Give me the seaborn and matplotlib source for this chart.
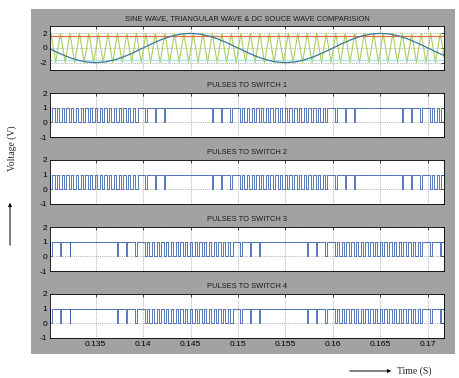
import numpy as np
import pandas as pd
import matplotlib
matplotlib.use('Agg')
import matplotlib.pyplot as plt
from matplotlib.patches import FancyArrowPatch
import seaborn as sns

# time axis (s)
X_MIN, X_MAX = 0.1302, 0.1717
X_TICKS = [0.135, 0.14, 0.145, 0.15, 0.155, 0.16, 0.165, 0.17]
X_TICK_LABELS = ['0.135', '0.14', '0.145', '0.15', '0.155', '0.16', '0.165', '0.17']

sine_t0, sine_dt = 0.130, 0.001
sine_v = [0.0, -0.62, -1.18, -1.62, -1.9, -2.0, -1.9, -1.62, -1.18, -0.62,
          0.0, 0.62, 1.18, 1.62, 1.9, 2.0, 1.9, 1.62, 1.18, 0.62,
          0.0, -0.62, -1.18, -1.62, -1.9, -2.0, -1.9, -1.62, -1.18, -0.62,
          0.0, 0.62, 1.18, 1.62, 1.9, 2.0, 1.9, 1.62, 1.18, 0.62,
          0.0, -0.62, -1.18]

# triangular carrier: first peak, period, peak levels
carrier_t0, carrier_T = 0.1303, 0.001
tri_hi, tri_lo = 2.0, -2.0
dc_pos, dc_neg = 1.7, -1.7

# width of the low notch in every half carrier period (fraction of 0.5 ms)
notch_T = 0.0005
sw1_dips = [0.5, 0.5, 0.5, 0.5, 0.5, 0.5, 0.5, 0.5, 0.5, 0.5,
            0.5, 0.5, 0.5, 0.5, 0.5, 0.5, 0.5, 0.5, 0.5, 0,
            0.4, 0, 0.24, 0, 0.16, 0, 0, 0, 0, 0,
            0, 0, 0, 0, 0.16, 0, 0.24, 0, 0.4, 0,
            0.5, 0.5, 0.5, 0.5, 0.5, 0.5, 0.5, 0.5, 0.5, 0.5,
            0.5, 0.5, 0.5, 0.5, 0.5, 0.5, 0.5, 0.5, 0.5, 0,
            0.4, 0, 0.24, 0, 0.16, 0, 0, 0, 0, 0,
            0, 0, 0, 0, 0.16, 0, 0.24, 0, 0.4, 0,
            0.5, 0.5, 0.5]
sw2_dips = sw1_dips
sw3_dips = [0.4, 0, 0.24, 0, 0.16, 0, 0, 0, 0, 0,
            0, 0, 0, 0, 0.16, 0, 0.24, 0, 0.4, 0,
            0.5, 0.5, 0.5, 0.5, 0.5, 0.5, 0.5, 0.5, 0.5, 0.5,
            0.5, 0.5, 0.5, 0.5, 0.5, 0.5, 0.5, 0.5, 0.5, 0,
            0.4, 0, 0.24, 0, 0.16, 0, 0, 0, 0, 0,
            0, 0, 0, 0, 0.16, 0, 0.24, 0, 0.4, 0,
            0.5, 0.5, 0.5, 0.5, 0.5, 0.5, 0.5, 0.5, 0.5, 0.5,
            0.5, 0.5, 0.5, 0.5, 0.5, 0.5, 0.5, 0.5, 0.5, 0,
            0.4, 0, 0.24]
sw4_dips = sw3_dips

TITLES = ['SINE WAVE, TRIANGULAR WAVE & DC SOUCE WAVE COMPARISION',
          'PULSES TO SWITCH 1', 'PULSES TO SWITCH 2',
          'PULSES TO SWITCH 3', 'PULSES TO SWITCH 4']

sns.set_style('white')
plt.rcParams['font.family'] = ['Liberation Sans Narrow', 'Liberation Sans', 'DejaVu Sans']
plt.rcParams['axes.unicode_minus'] = False

W, H = 460, 378
fig = plt.figure(figsize=(W / 100, H / 100), dpi=100)
# grey scope panel behind the axes
bg = fig.add_axes([31 / W, 1 - 354 / H, (455 - 31) / W, (354 - 9) / H], zorder=-5)
bg.set_facecolor('#a2a2a2')
bg.set_xticks([])
bg.set_yticks([])
for s in bg.spines.values():
    s.set_visible(False)

tops = [26, 93, 160, 227, 294]
ax_h = 44
axes = [fig.add_axes([50 / W, 1 - (t + ax_h) / H, (444 - 50) / W, ax_h / H]) for t in tops]


def pulse_frame(dips):
    xs, ys = [X_MIN], [1]
    for k, w in enumerate(dips):
        if w <= 0:
            continue
        c = carrier_t0 + k * notch_T
        a = max(c - w * notch_T / 2, X_MIN)
        b = min(c + w * notch_T / 2, X_MAX)
        if a >= b:
            continue
        xs += [a, a, b, b]
        ys += [1, 0, 0, 1]
    xs.append(X_MAX)
    ys.append(1)
    return pd.DataFrame({'t': xs, 'v': ys})


# top panel
ax = axes[0]
n_car = 43
tri_t, tri_v = [], []
for k in range(n_car):
    tri_t += [carrier_t0 - carrier_T + k * carrier_T, carrier_t0 - carrier_T / 2 + k * carrier_T]
    tri_v += [tri_hi, tri_lo]
df_tri = pd.DataFrame({'t': tri_t, 'v': tri_v})
sns.lineplot(data=df_tri, x='t', y='v', ax=ax, color='#a6d060', lw=0.8,
             estimator=None, sort=False)
ax.axhline(dc_pos, color='#e0703a', lw=0.9)
ax.axhline(dc_neg, color='#a5e2e2', lw=0.8)
df_sine = pd.DataFrame({'t': [sine_t0 + i * sine_dt for i in range(len(sine_v))], 'v': sine_v})
sns.lineplot(data=df_sine, x='t', y='v', ax=ax, color='#3a7896', lw=0.9,
             estimator=None, sort=False)
ax.set_ylim(-3, 3)
ax.set_yticks([-2, 0, 2])

for ax, dips in zip(axes[1:], [sw1_dips, sw2_dips, sw3_dips, sw4_dips]):
    sns.lineplot(data=pulse_frame(dips), x='t', y='v', ax=ax, color='#3a62b0',
                 lw=0.6, estimator=None, sort=False)
    ax.set_ylim(-1, 2)
    ax.set_yticks([-1, 0, 1, 2])

for i, ax in enumerate(axes):
    ax.set_facecolor('white')
    ax.set_xlim(X_MIN, X_MAX)
    ax.set_xticks(X_TICKS)
    ax.set_xlabel('')
    ax.set_ylabel('')
    if i == 4:
        ax.set_xticklabels(X_TICK_LABELS)
    else:
        ax.set_xticklabels([])
    ax.grid(True, color='#7a7a7a', ls=':', lw=0.5)
    ax.tick_params(direction='in', top=True, right=True, length=2.5, width=0.5,
                   labelsize=6, pad=2, colors='black')
    for s in ax.spines.values():
        s.set_visible(True)
        s.set_color('black')
        s.set_linewidth(0.6)
    ax.set_title(TITLES[i], fontsize=5.4, color='#1a1a1a', pad=4)

# outer labels
fig.text(12 / W, 1 - 148 / H, 'Voltage (V)', rotation=90, ha='center', va='center',
         fontsize=7, family=['Liberation Serif', 'DejaVu Serif'])
fig.add_artist(FancyArrowPatch(
    (10 / W, 1 - 248 / H), (10 / W, 1 - 200 / H), transform=fig.transFigure,
    arrowstyle='-|>', mutation_scale=5, lw=0.7, color='black'))
fig.text(397 / W, 1 - 371 / H, 'Time (S)', ha='left', va='center',
         fontsize=7, family=['Liberation Serif', 'DejaVu Serif'])
fig.add_artist(FancyArrowPatch(
    (347 / W, 1 - 371 / H), (394 / W, 1 - 371 / H), transform=fig.transFigure,
    arrowstyle='-|>', mutation_scale=5, lw=0.7, color='black'))

fig.savefig('out.png', dpi=100)
